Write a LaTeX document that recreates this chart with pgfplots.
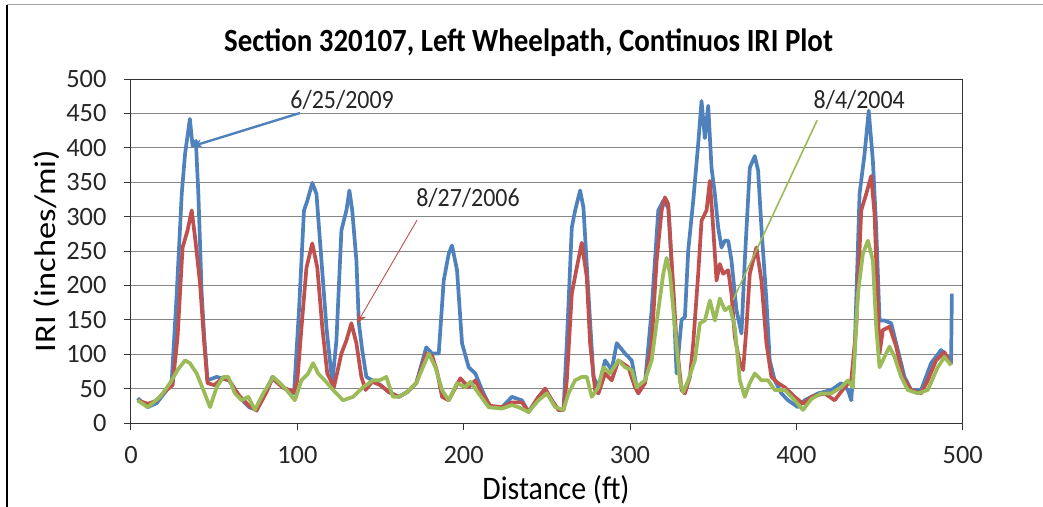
\documentclass[border=0pt]{standalone}
\usepackage{fontspec}
\setmainfont{Carlito}
\usepackage{pgfplots}
\pgfplotsset{compat=1.18}
\usetikzlibrary{arrows.meta}
\definecolor{xlblue}{HTML}{4F81BD}
\definecolor{xlred}{HTML}{C0504D}
\definecolor{xlgreen}{HTML}{9BBB59}
\definecolor{gridgray}{HTML}{868686}
\begin{document}
\begin{tikzpicture}
\useasboundingbox (-131bp,-84bp) rectangle (912bp,423bp);
\draw[gray!70, line width=1bp] (-124bp,418bp) -- (912bp,418bp);
\draw[black, line width=1.2bp] (-124bp,418bp) -- (-124bp,-84bp);
\begin{axis}[
  at={(0,0)}, anchor=south west,
  scale only axis,
  width=831.7bp, height=344bp,
  xmin=0, xmax=500, ymin=0, ymax=500,
  xtick={0,100,...,500}, ytick={0,50,...,500},
  xtick pos=left, ytick pos=left,
  tick align=outside,
  major tick length=7bp,
  ymajorgrids,
  grid style={gridgray, line width=0.8bp},
  axis line style={black!80, line width=1bp},
  tick style={black!80, line width=1bp},
  /pgf/number format/assume math mode=true,
  ticklabel style={font=\fontsize{26.5}{30}\selectfont, text=black!85},
  xticklabel style={yshift=-13bp},
  yticklabel style={xshift=-14bp},
  xlabel={\scalebox{1}[1.1]{Distance (ft)}},
  ylabel={\scalebox{1.15}[1]{IRI (inches/mi)}},
  xlabel style={font=\fontsize{30}{34}\selectfont, at={(axis description cs:0.511,-0.195)}, anchor=center},
  ylabel style={font=\fontsize{30}{34}\selectfont, at={(axis description cs:-0.101,0.5)}, anchor=center},
  title={\scalebox{1}[1.12]{\textbf{Section 320107, Left Wheelpath, Continuos IRI Plot}}},
  title style={font=\fontsize{29}{33}\selectfont, at={(axis description cs:0.478,1.089)}, anchor=center},
  clip=true,
  every axis plot/.append style={line width=3.7bp, line join=round},
]
\addplot[xlblue] coordinates {
(4,36) (10,23) (15.5,29) (21.5,48) (24.5,62) (27.5,188) (30.5,333) (32.5,391) (35.4,442) (37,403) (39,410) (40.5,333) (42.5,188) (44,125) (46,62) (51.5,67) (59,62) (65,38) (71,23) (75.5,19) (81.5,48) (85,67) (91,52) (98,43) (101,164) (104,309) (106,323) (109,349) (111.5,333) (114.5,236) (117.5,139) (121,58) (123.5,120) (126.5,280) (129.5,309) (131.3,338) (133,309) (135.5,236) (137,145) (139,106) (141.5,67) (145,62) (150,55) (155,45) (161,38) (166,45) (171.5,58) (177.5,110) (181,101) (185,101) (188,207) (191,246) (193,258) (196,222) (199,116) (203,81) (207,72) (211,48) (216,23) (223,23) (229,38) (235,33) (239,16) (245,38) (249,48) (253,33) (257,19) (260,19) (262,116) (265,284) (267,309) (270,338) (272,313) (275,188) (278,67) (281,52) (285,91) (289,77) (292,116) (297,101) (301,91) (304,52) (309,58) (313,164) (317,309) (320,323) (323,313) (326,188) (328,72) (331,150) (333,154) (335,251) (338,323) (341,406) (343,468) (345,414) (347,461) (349,371) (351,333) (353,284) (355,255) (357,265) (359,265) (361,236) (364,164) (367,130) (369,236) (372,371) (375,388) (377,367) (379,284) (382,178) (384,91) (387,62) (391,43) (395,33) (401,23) (405,33) (413,43) (421,48) (427,58) (431,48) (433,33) (435,101) (438,333) (441,391) (443.5,454) (446,381) (448,284) (450,149) (453,149) (457,145) (461,106) (465,67) (469,48) (475,48) (481,87) (487,106) (491,96) (493,87) (493.5,188)
};
\addplot[xlred] coordinates {
(4,33) (10,28) (15,32) (20,45) (25,55) (28,125) (31,255) (34,280) (36.5,309) (38.5,270) (41.5,203) (44,116) (46,58) (50,55) (55,65) (59,62) (65,40) (71,25) (75.5,18) (81.5,45) (85,65) (91,52) (98,45) (100,62) (102.5,139) (105.5,226) (109,261) (112,226) (115,139) (118,72) (122,52) (126.5,101) (129.5,120) (132.5,145) (135.5,116) (138.5,67) (141,48) (145,60) (150,55) (155,45) (161,38) (166,45) (171.5,58) (177.5,101) (181,98) (184,75) (187,38) (191,33) (198,65) (203,52) (207,62) (211,43) (216,25) (223,23) (229,30) (235,30) (239,16) (245,38) (249,50) (253,33) (257,19) (260,19) (262,62) (265,188) (268,226) (271,262) (274,212) (276,116) (279,48) (281,43) (285,72) (289,62) (293,91) (299,81) (303,52) (305,43) (309,58) (313,116) (316,236) (319,309) (321,328) (323,318) (325,236) (328,116) (331,48) (333,43) (336,67) (338,116) (341,217) (343,294) (346,309) (348,352) (350,284) (352,207) (354,231) (356,217) (359,222) (361,188) (363,125) (366,87) (368,77) (370,139) (372,217) (376,255) (379,207) (382,116) (385,67) (389,58) (393,52) (399,38) (404,28) (409,38) (417,43) (423,33) (429,52) (433,62) (436,139) (439,309) (442,333) (445,359) (447,304) (450,101) (452,135) (456,140) (460,111) (464,67) (469,48) (475,43) (479,62) (484,91) (489,103) (493,84)
};
\addplot[xlgreen] coordinates {
(4,33) (10,23) (17.5,38) (23.5,58) (28,77) (32.5,91) (35.4,87) (39.5,72) (43.5,48) (47.5,23) (51.5,52) (55.5,67) (58.5,67) (62.5,43) (66.5,33) (70.5,38) (74.5,19) (79.5,43) (85.5,67) (89.5,58) (93.5,48) (98.5,33) (102.5,62) (106.5,72) (109.5,87) (112.5,72) (116.5,62) (121.5,48) (127.5,33) (133.5,38) (139.5,52) (145.5,62) (149.5,62) (153.5,67) (157.5,38) (161,38) (166,45) (171.5,58) (179,101) (183,81) (187,48) (191,33) (196,58) (201,52) (204,60) (209,43) (215,23) (223,21) (229,26) (233,23) (239,16) (245,33) (250,43) (255,23) (260,19) (263,43) (267,62) (271,67) (274,67) (277,38) (281,52) (284,81) (288,72) (293,91) (297,81) (301,77) (304,52) (309,62) (313,91) (317,164) (320,217) (322,240) (324,217) (327,139) (330,60) (332,45) (335,62) (339,91) (342,145) (345,149) (348,178) (351,149) (354,181) (357,164) (360,169) (363,139) (366,62) (369,38) (372,58) (375,72) (379,62) (383,62) (387,48) (393,48) (399,33) (404,19) (409,35) (415,43) (421,43) (427,52) (431,62) (434,52) (437,188) (440,246) (443,265) (446,236) (448,139) (450,81) (453,96) (456,111) (459,96) (463,67) (467,48) (473,43) (479,48) (485,81) (489,96) (493,84)
};
\draw[xlblue, line width=2.4bp, -{Stealth[length=9bp,width=9bp]}] (axis cs:101.6,450.6) -- (axis cs:37.3,402.6);
\draw[xlred, line width=0.9bp, -{Stealth[length=10bp,width=9bp]}] (axis cs:172,295) -- (axis cs:135.9,145);
\draw[xlgreen, line width=1.6bp] (axis cs:412.5,440) -- (axis cs:362,179);
\node[font=\fontsize{24}{28}\selectfont, text=black!85] at (axis cs:126.9,469) {\scalebox{1}[1.1]{6/25/2009}};
\node[font=\fontsize{24}{28}\selectfont, text=black!85] at (axis cs:202.6,327) {\scalebox{1}[1.1]{8/27/2006}};
\node[font=\fontsize{24}{28}\selectfont, text=black!85] at (axis cs:437.8,469) {\scalebox{1}[1.1]{8/4/2004}};
\end{axis}
\end{tikzpicture}
\end{document}
